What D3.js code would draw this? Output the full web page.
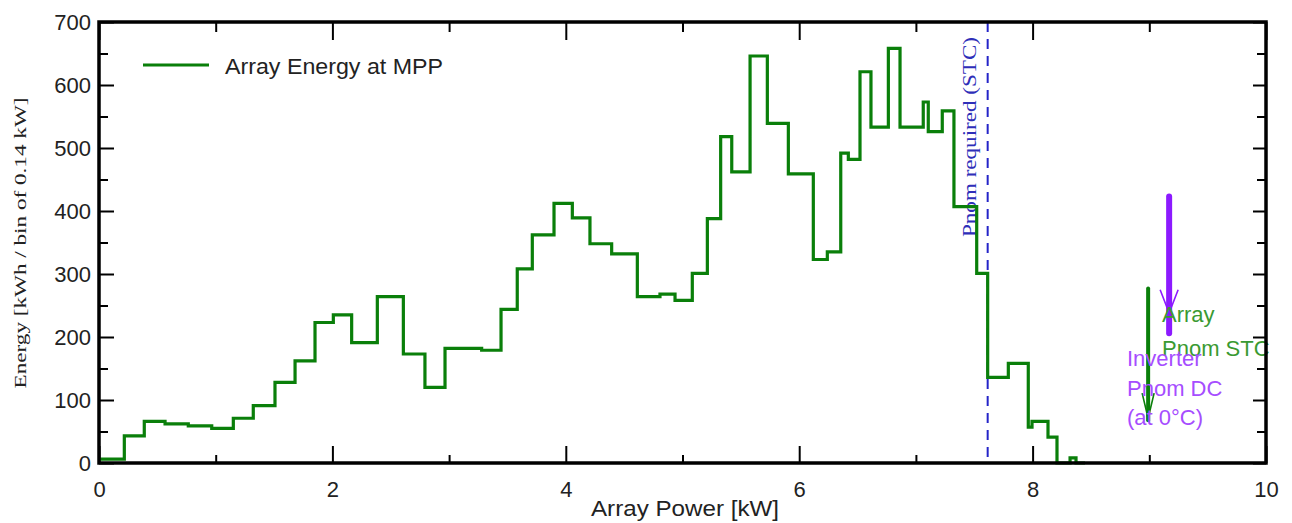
<!DOCTYPE html>
<html>
<head>
<meta charset="utf-8">
<script src="https://cdn.jsdelivr.net/npm/d3@7/dist/d3.min.js"></script>
<style>
  html, body { margin: 0; padding: 0; background: #ffffff; }
  svg { display: block; }
  text { font-family: "Liberation Sans", Arial, sans-serif; }
</style>
</head>
<body>
<svg id="chart" width="1292" height="523"></svg>
<script>
// ---------- data ----------
// histogram bin edges (kW) and energy per bin (kWh)
const binEdges = [0, 0.217, 0.388, 0.566, 0.765, 0.966, 1.151, 1.322, 1.508, 1.680, 1.851,
  2.008, 2.165, 2.385, 2.608, 2.793, 2.965, 3.279, 3.445, 3.584, 3.713,
  3.899, 4.056, 4.207, 4.393, 4.613, 4.807, 4.936, 5.084, 5.213, 5.327,
  5.422, 5.579, 5.727, 5.907, 6.121, 6.241, 6.356, 6.421, 6.521, 6.615,
  6.764, 6.864, 7.063, 7.106, 7.226, 7.326, 7.521, 7.615, 7.792, 7.963,
  7.995, 8.132, 8.209, 8.321, 8.372, 8.449];
const energy = [6, 43, 66, 62, 59, 55, 71, 91, 128, 162,
  223, 235, 191, 264, 173, 120, 182, 179, 244, 308,
  362, 412, 389, 348, 332, 264, 268, 258, 301, 388,
  518, 462, 646, 539, 459, 323, 335, 492, 482, 621,
  533, 658, 533, 573, 526, 559, 407, 301, 136, 158,
  57, 66, 41, 0, 8, 0];

const seriesName = "Array Energy at MPP";
const pnomRequired = 7.615;              // kW, dashed vertical marker
const pnomRequiredLabel = "Pnom required (STC)";

// marker arrows: [kW position, top value, bottom value]
const arrowNames = ["Array Pnom STC", "Inverter Pnom DC"];
const arrowX = [8.99, 9.17];
const arrowTop = [277, 423];
const arrowBottom = [68, 206];
const arrowHeadTip = [71, 238];
const arrowHeadBase = [111, 275];

const xTicks = [0, 2, 4, 6, 8, 10];
const xMinorTicks = [1, 3, 5, 7, 9];
const yTicks = [0, 100, 200, 300, 400, 500, 600, 700];
const yMinorTicks = [50, 150, 250, 350, 450, 550, 650];

const xTitle = "Array Power [kW]";
const yTitle = "Energy  [kWh / bin of 0.14 kW]";

// ---------- layout ----------
const svg = d3.select("#chart");
const L = 99, R = 1266, T = 22, B = 463;
const x = d3.scaleLinear().domain([0, 10]).range([L, R]);
const y = d3.scaleLinear().domain([0, 700]).range([B, T]);

const GREEN = "#0a7f0a";
const PURPLE_LINE = "#8c1aff";
const PURPLE_TEXT = "#a64dff";
const GREEN_TEXT = "#3a9a32";
const BLUE = "#2424c8";
const TXT = "#222222";

// ---------- axes ----------
function styleAxis(g) {
  g.select(".domain").remove();
  g.selectAll(".tick line").attr("stroke", "#000").attr("stroke-width", 2);
  g.selectAll(".tick text").attr("fill", TXT)
    .style("font-family", '"Liberation Sans", Arial, sans-serif')
    .style("font-size", "22px");
}
svg.append("g").attr("transform", `translate(${L},0)`)
  .call(d3.axisLeft(y).tickValues(yTicks).tickSize(-15).tickPadding(8).tickFormat(d3.format("d")))
  .call(styleAxis);
svg.append("g").attr("transform", `translate(${L},0)`)
  .call(d3.axisLeft(y).tickValues(yMinorTicks).tickSize(-9).tickFormat(""))
  .call(styleAxis);
svg.append("g").attr("transform", `translate(${R},0)`)
  .call(d3.axisRight(y).tickValues(yTicks).tickSize(-13).tickFormat(""))
  .call(styleAxis);
svg.append("g").attr("transform", `translate(${R},0)`)
  .call(d3.axisRight(y).tickValues(yMinorTicks).tickSize(-9).tickFormat(""))
  .call(styleAxis);
svg.append("g").attr("transform", `translate(0,${B})`)
  .call(d3.axisBottom(x).tickValues(xTicks).tickSize(-17).tickPadding(18).tickFormat(d3.format("d")))
  .call(styleAxis);
svg.append("g").attr("transform", `translate(0,${B})`)
  .call(d3.axisBottom(x).tickValues(xMinorTicks).tickSize(-8).tickFormat(""))
  .call(styleAxis);
svg.append("g").attr("transform", `translate(0,${T})`)
  .call(d3.axisTop(x).tickValues(xTicks).tickSize(-18).tickFormat(""))
  .call(styleAxis);
svg.append("g").attr("transform", `translate(0,${T})`)
  .call(d3.axisTop(x).tickValues(xMinorTicks).tickSize(-10).tickFormat(""))
  .call(styleAxis);

// ---------- dashed Pnom required line ----------
svg.append("line")
  .attr("x1", x(pnomRequired)).attr("x2", x(pnomRequired))
  .attr("y1", y(700)).attr("y2", y(0))
  .attr("stroke", BLUE).attr("stroke-width", 2)
  .attr("stroke-dasharray", "10,7");
svg.append("text")
  .attr("transform", `translate(${x(pnomRequired) - 12},237) rotate(-90)`)
  .attr("text-anchor", "start")
  .attr("textLength", 200).attr("lengthAdjust", "spacingAndGlyphs")
  .style("font-family", '"Liberation Serif", "Times New Roman", serif')
  .style("font-size", "19px")
  .attr("fill", "#2e2eb8")
  .text(pnomRequiredLabel);

// ---------- histogram step line ----------
const pts = energy.map((v, i) => [binEdges[i], v]);
pts.push([binEdges[binEdges.length - 1], energy[energy.length - 1]]);
const line = d3.line().x(d => x(d[0])).y(d => y(d[1])).curve(d3.curveStepAfter);
svg.append("path")
  .attr("d", line(pts))
  .attr("fill", "none")
  .attr("stroke", GREEN)
  .attr("stroke-width", 3.2)
  .attr("stroke-linejoin", "miter");

// ---------- marker arrows ----------
const arrowColors = [GREEN, PURPLE_LINE];
const arrowWidths = [4, 6];
const arrowHalf = [6, 9];
[1, 0].forEach(i => {
  svg.append("line")
    .attr("x1", x(arrowX[i])).attr("x2", x(arrowX[i]))
    .attr("y1", y(arrowTop[i])).attr("y2", y(arrowBottom[i]))
    .attr("stroke", arrowColors[i]).attr("stroke-width", arrowWidths[i])
    .attr("stroke-linecap", "round");
  const hx = x(arrowX[i]);
  svg.append("path")
    .attr("d", `M${hx - arrowHalf[i]},${y(arrowHeadBase[i])}L${hx},${y(arrowHeadTip[i])}L${hx + arrowHalf[i]},${y(arrowHeadBase[i])}`)
    .attr("fill", "none").attr("stroke", arrowColors[i]).attr("stroke-width", 1.6);
});

// arrow labels
const greenLabel = svg.append("text").attr("fill", GREEN_TEXT).style("font-size", "22px");
greenLabel.append("tspan").attr("x", 1162).attr("y", 322).text("Array");
greenLabel.append("tspan").attr("x", 1162).attr("y", 356).text("Pnom STC");
const purpleLabel = svg.append("text").attr("fill", PURPLE_TEXT).style("font-size", "22px");
purpleLabel.append("tspan").attr("x", 1127).attr("y", 366).text("Inverter");
purpleLabel.append("tspan").attr("x", 1127).attr("y", 396).text("Pnom DC");
purpleLabel.append("tspan").attr("x", 1127).attr("y", 425).text("(at 0°C)");

// ---------- frame ----------
svg.append("rect")
  .attr("x", L).attr("y", T).attr("width", R - L).attr("height", B - T)
  .attr("fill", "none").attr("stroke", "#000").attr("stroke-width", 3.5);

// ---------- legend ----------
svg.append("line").attr("x1", 143).attr("x2", 209).attr("y1", 65).attr("y2", 65)
  .attr("stroke", GREEN).attr("stroke-width", 3.2);
svg.append("text").attr("x", 225).attr("y", 74).attr("fill", TXT)
  .attr("textLength", 218).attr("lengthAdjust", "spacingAndGlyphs")
  .style("font-size", "22.5px").text(seriesName);

// ---------- axis titles ----------
svg.append("text")
  .attr("x", 685).attr("y", 516)
  .attr("text-anchor", "middle").attr("fill", TXT)
  .attr("textLength", 188).attr("lengthAdjust", "spacingAndGlyphs")
  .style("font-size", "22.5px").text(xTitle);
svg.append("text")
  .attr("transform", "translate(26,243) rotate(-90)")
  .attr("text-anchor", "middle").attr("fill", TXT)
  .attr("textLength", 291).attr("lengthAdjust", "spacingAndGlyphs")
  .style("font-family", '"Liberation Serif", "Times New Roman", serif')
  .style("font-size", "17px")
  .text(yTitle);
</script>
</body>
</html>
